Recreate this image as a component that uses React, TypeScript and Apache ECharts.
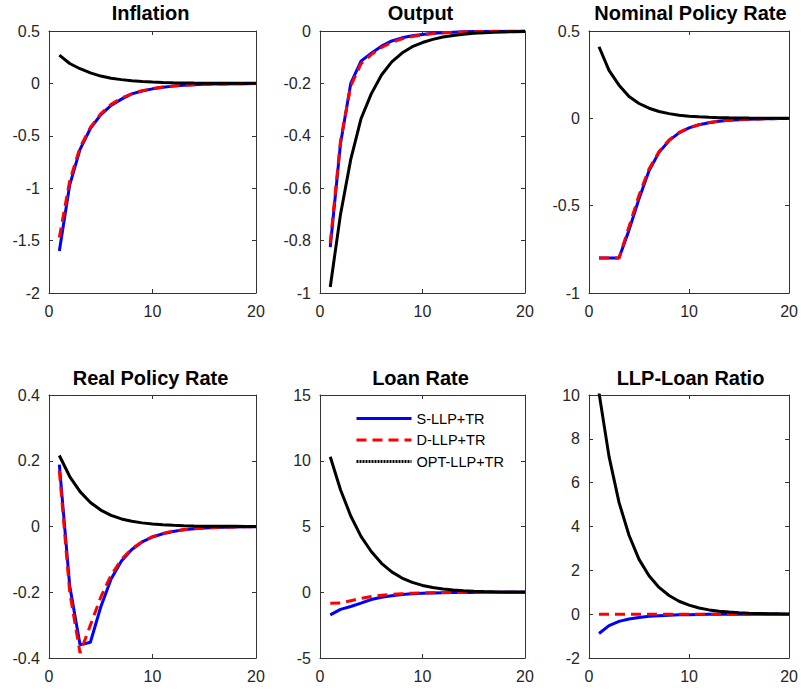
import React, { useEffect, useRef } from "react";
import * as echarts from "echarts";

// Horizon (quarters) of the impulse responses
const periods = [1, 2, 3, 4, 5, 6, 7, 8, 9, 10, 11, 12, 13, 14, 15, 16, 17, 18, 19, 20];

const seriesNames = ["S-LLP+TR", "D-LLP+TR", "OPT-LLP+TR"];
const panelTitles = [
  "Inflation",
  "Output",
  "Nominal Policy Rate",
  "Real Policy Rate",
  "Loan Rate",
  "LLP-Loan Ratio",
];

// y-axis ranges per panel: [min, max, step]
const yRanges: [number, number, number][] = [
  [-2, 0.5, 0.5],
  [-1, 0, 0.2],
  [-1, 0.5, 0.5],
  [-0.4, 0.4, 0.2],
  [-5, 15, 5],
  [-2, 10, 2],
];
const xTicks = [0, 10, 20];

// Inflation
const inflS = [-1.6, -0.97, -0.63, -0.43, -0.3, -0.21, -0.15, -0.1, -0.073, -0.052, -0.037, -0.026, -0.018, -0.013, -0.009, -0.0065, -0.0046, -0.0033, -0.0023, -0.0016];
const inflD = [-1.47, -0.93, -0.61, -0.42, -0.29, -0.2, -0.14, -0.1, -0.07, -0.05, -0.035, -0.025, -0.018, -0.013, -0.009, -0.0065, -0.0046, -0.0033, -0.0023, -0.0016];
const inflO = [0.27, 0.19, 0.14, 0.1, 0.07, 0.05, 0.036, 0.026, 0.018, 0.013, 0.009, 0.0065, 0.0046, 0.0033, 0.0023, 0.0016, 0.0011, 0.0008, 0.0006, 0.0004];

// Output
const outS = [-0.825, -0.43, -0.2, -0.115, -0.085, -0.058, -0.038, -0.026, -0.018, -0.013, -0.009, -0.0065, -0.0045, -0.003, -0.002, -0.0015, -0.001, -0.0007, -0.0005, -0.0003];
const outD = [-0.81, -0.42, -0.21, -0.125, -0.09, -0.063, -0.043, -0.03, -0.021, -0.015, -0.01, -0.007, -0.005, -0.0035, -0.0025, -0.0018, -0.0012, -0.0008, -0.0006, -0.0004];
const outO = [-0.977, -0.7, -0.49, -0.335, -0.24, -0.168, -0.118, -0.084, -0.06, -0.044, -0.032, -0.023, -0.017, -0.012, -0.009, -0.0065, -0.0047, -0.0034, -0.0025, -0.0018];

// Nominal policy rate
const nomS = [-0.8, -0.8, -0.8, -0.64, -0.46, -0.3, -0.195, -0.128, -0.083, -0.055, -0.037, -0.025, -0.017, -0.011, -0.0075, -0.005, -0.0034, -0.0023, -0.0016, -0.001];
const nomD = [-0.8, -0.8, -0.8, -0.62, -0.44, -0.29, -0.19, -0.124, -0.081, -0.054, -0.036, -0.024, -0.016, -0.011, -0.0073, -0.005, -0.0033, -0.0022, -0.0015, -0.001];
const nomO = [0.41, 0.275, 0.19, 0.125, 0.085, 0.058, 0.039, 0.027, 0.018, 0.012, 0.0085, 0.0058, 0.004, 0.0027, 0.0018, 0.0012, 0.0008, 0.0006, 0.0004, 0.0003];

// Real policy rate
const realS = [0.188, -0.18, -0.36, -0.352, -0.245, -0.16, -0.105, -0.07, -0.047, -0.032, -0.022, -0.015, -0.01, -0.007, -0.0047, -0.0032, -0.0022, -0.0015, -0.001, -0.0007];
const realD = [0.17, -0.2, -0.385, -0.3, -0.215, -0.148, -0.1, -0.068, -0.046, -0.031, -0.021, -0.014, -0.0098, -0.0066, -0.0045, -0.003, -0.002, -0.0014, -0.001, -0.0007];
const realO = [0.216, 0.152, 0.106, 0.073, 0.05, 0.034, 0.023, 0.016, 0.011, 0.0075, 0.005, 0.0035, 0.0024, 0.0016, 0.0011, 0.0008, 0.0005, 0.0004, 0.0003, 0.0002];

// Loan rate
const loanS = [-1.72, -1.3, -1.08, -0.83, -0.55, -0.38, -0.26, -0.17, -0.115, -0.078, -0.053, -0.036, -0.024, -0.016, -0.011, -0.0075, -0.005, -0.0034, -0.0023, -0.0016];
const loanD = [-0.84, -0.82, -0.64, -0.47, -0.33, -0.23, -0.16, -0.11, -0.075, -0.051, -0.035, -0.024, -0.016, -0.011, -0.0075, -0.005, -0.0034, -0.0023, -0.0016, -0.001];
const loanO = [10.3, 7.8, 5.8, 4.25, 3.1, 2.2, 1.55, 1.08, 0.75, 0.52, 0.36, 0.25, 0.17, 0.12, 0.08, 0.055, 0.038, 0.026, 0.018, 0.012];

// LLP-to-loan ratio
const llpS = [-0.88, -0.52, -0.33, -0.22, -0.15, -0.1, -0.068, -0.046, -0.031, -0.021, -0.014, -0.0095, -0.0064, -0.0043, -0.0029, -0.002, -0.0013, -0.0009, -0.0006, -0.0004];
const llpD = [0, 0, 0, 0, 0, 0, 0, 0, 0, 0, 0, 0, 0, 0, 0, 0, 0, 0, 0, 0];
const llpO = [10.1, 7.2, 5.1, 3.6, 2.5, 1.75, 1.22, 0.85, 0.59, 0.41, 0.28, 0.195, 0.135, 0.094, 0.065, 0.045, 0.031, 0.022, 0.015, 0.01];

const panelData: number[][][] = [
  [inflS, inflD, inflO],
  [outS, outD, outO],
  [nomS, nomD, nomO],
  [realS, realD, realO],
  [loanS, loanD, loanO],
  [llpS, llpD, llpO],
];

const FONT = "'Liberation Sans', Arial, Helvetica, sans-serif";
const AXIS_COLOR = "#333333";
const LABEL_COLOR = "#262626";

// Pixel layout of the 2x3 grid of axes
const colLeft = [49, 320, 589];
const colWidth = [207, 205, 207];
const rowTop = [31, 395];
const rowHeight = [262, 263];

const lineStyles = [
  { color: "#0000ff", width: 3, type: "solid" as any },
  { color: "#ff0000", width: 3, type: [10, 6] as any },
  { color: "#000000", width: 3, type: "solid" as any },
];

function buildOption() {
  const grids: any[] = [];
  const xAxes: any[] = [];
  const yAxes: any[] = [];
  const titles: any[] = [];
  const series: any[] = [];

  panelTitles.forEach((title, i) => {
    const r = Math.floor(i / 3);
    const c = i % 3;
    const left = colLeft[c];
    const top = rowTop[r];
    const width = colWidth[c];
    const height = rowHeight[r];
    grids.push({ left, top, width, height, containLabel: false });

    titles.push({
      text: title,
      left: left + width / 2 - 2,
      top: r === 0 ? 3 : 368,
      textAlign: "center",
      padding: 0,
      textStyle: { fontFamily: FONT, fontSize: 20, fontWeight: "bold", color: "#000" },
    });

    const [yMin, yMax, yStep] = yRanges[i];
    const axisLine = { show: true, onZero: false, lineStyle: { color: AXIS_COLOR, width: 1 } };
    const axisTick = { show: true, inside: true, length: 4, lineStyle: { color: AXIS_COLOR, width: 1 } };
    const xBase = {
      gridIndex: i,
      type: "value",
      min: xTicks[0],
      max: xTicks[xTicks.length - 1],
      interval: xTicks[1] - xTicks[0],
      axisLine,
      axisTick,
      splitLine: { show: false },
    };
    xAxes.push({
      ...xBase,
      position: "bottom",
      axisLabel: { show: true, margin: 10, fontSize: 16, fontFamily: FONT, color: LABEL_COLOR },
    });
    xAxes.push({ ...xBase, position: "top", axisLabel: { show: false } });

    const yBase = {
      gridIndex: i,
      type: "value",
      min: yMin,
      max: yMax,
      interval: yStep,
      axisLine,
      axisTick,
      splitLine: { show: false },
    };
    yAxes.push({
      ...yBase,
      position: "left",
      axisLabel: { show: true, margin: 9, fontSize: 16, fontFamily: FONT, color: LABEL_COLOR },
    });
    yAxes.push({ ...yBase, position: "right", axisLabel: { show: false } });

    panelData[i].forEach((vals, k) => {
      series.push({
        name: seriesNames[k],
        type: "line",
        xAxisIndex: 2 * i,
        yAxisIndex: 2 * i,
        data: periods.map((p, j) => [p, vals[j]]),
        showSymbol: false,
        symbol: "none",
        clip: true,
        lineStyle: lineStyles[k],
        itemStyle: { color: lineStyles[k].color },
        z: 2 + k,
      });
    });
  });

  return {
    animation: false,
    backgroundColor: "#ffffff",
    title: titles,
    grid: grids,
    xAxis: xAxes,
    yAxis: yAxes,
    series,
    legend: {
      show: true,
      orient: "vertical",
      left: 355,
      top: 411,
      itemWidth: 55,
      itemHeight: 14,
      itemGap: 6.5,
      padding: 0,
      selectedMode: false,
      data: [
        { name: seriesNames[0] },
        { name: seriesNames[1] },
        // the optimal-policy key is drawn as a dotted stroke
        { name: seriesNames[2], lineStyle: { type: [2, 1], width: 3 } },
      ],
      // line-only keys: hide the marker drawn on top of each legend line
      itemStyle: { opacity: 0 },
      lineStyle: { width: 3 },
      textStyle: { fontFamily: FONT, fontSize: 14.5, color: "#000" },
    },
  };
}

export default function App() {
  const ref = useRef<HTMLDivElement | null>(null);
  useEffect(() => {
    if (!ref.current) return;
    const chart = echarts.init(ref.current, null, { renderer: "svg" });
    chart.setOption(buildOption() as any);
    return () => chart.dispose();
  }, []);
  return (
    <div
      ref={ref}
      style={{ position: "absolute", left: 0, top: 0, width: 801, height: 690, background: "#fff" }}
    />
  );
}
